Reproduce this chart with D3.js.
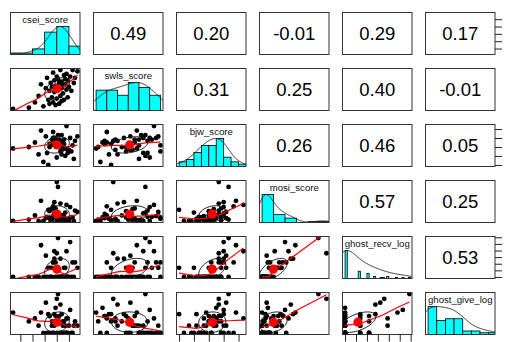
<!DOCTYPE html>
<html><head><meta charset="utf-8">
<script src="https://cdn.jsdelivr.net/npm/d3@7"></script>
<style>body{margin:0;background:#fff}svg{display:block}</style>
</head><body><svg id="c" width="507" height="342"></svg>
<script>
// ---- data (48 observations) ----
const names = ["csei_score","swls_score","bjw_score","mosi_score","ghost_recv_log","ghost_give_log"];
const csei = [36.5,31.5,38.5,28.5,34,33,30,35.5,26,37.5,30.5,33.5,29,34.5,32,27.5,37,31,33.5,23.5,32.5,29.5,35,28,32,25.5,34,30.5,27,36,29,32.5,22.5,31.5,34.5,28,30,33,26.5,32,28.5,21,31,27,29.5,24.5,18.5,12];
const swls = [35,35,34,33,32,31,30,30,29,29,28,28,27,27,26,25,25,25,24,24,23,23,22,22,21,21,20,20,19,19,18,17,15,15,14,14,13,12,12,11,10,10,9,9,8,7,6,5];
const bjw = [4.17,3.5,5.17,5,6.33,4.83,2.83,5,3.33,4.67,5.33,3,5,3.33,5.33,4.17,2.67,4.83,3.83,5.83,4.5,4.83,3.67,4.33,3.67,5.17,3.83,4.17,4,3.5,5,4,3.17,4.67,3.67,4.83,4.67,4.33,2,3.17,5.67,4.5,4.67,4.33,4.5,2.33,4,3.83];
const mosi = [0.5,0.3,1.3,0.7,2.3,0.6,0,2.0,0.6,1.5,4.9,1.2,1.1,0,0.2,0,0,0.1,0,2.9,0.4,1.8,0,1.7,0.7,0.4,0.2,0.9,1.4,0.5,2.7,0.8,0,2.5,0.3,0.1,5.6,0.1,1.6,0.3,2.1,0.8,1.0,0.4,0.5,0,0.2,0];
const ghostRecv = [1.099,0,0.693,1.099,1.946,0.693,0,2.639,0,1.099,2.944,0.693,1.946,0,0,0,0,0,0,2.398,0,1.099,0,0.693,0,1.609,0,0.693,0.693,0,1.386,0,0,1.386,0,0,1.792,0,0.693,0,1.099,0,0,0,0,0,0,0];
const ghostGive = [0,0,0.693,0,1.386,0,0,2.197,0,1.099,3.714,0,0.693,0,0,0,0.693,0,0.693,1.946,0.693,1.609,0.693,0.693,0,2.890,0,1.386,1.609,0,1.792,1.099,0.693,2.708,1.386,1.099,3.258,1.099,1.792,1.792,0,1.386,1.609,1.609,2.398,0,1.099,1.946];
// correlations printed in the upper panels (row i, columns i+1..)
const corr = [[0.49,0.20,-0.01,0.29,0.17],[0.31,0.25,0.40,-0.01],[0.26,0.46,0.05],[0.57,0.25],[0.53]];
// histogram breaks
const histStart = [10,5,2,0,0,0];
const histWidth = [5,5,0.5,1,0.1,0.5];
// axis tick values
const bottomTicks = {0:[15,20,25,30,35], 2:[2,3,4,5,6], 4:[0,0.5,1,1.5,2,2.5,3]};
const rightTicks = {0:[15,20,25,30,35], 2:[2,3,4,5,6], 4:[0,0.5,1,1.5,2,2.5,3]};

const vars = [csei,swls,bjw,mosi,ghostRecv,ghostGive];
const NV = vars.length;
const L0=10.5, DX=83, PW=69.5, T0=12.5, DY=56, PH=42;
const pLeft=k=>L0+k*DX, pTop=k=>T0+k*DY;
const svg = d3.select("#c");
const FONT = "'Liberation Sans', Arial, Helvetica, sans-serif";

const xS = vars.map((v,k)=>{const e=d3.extent(v),p=0.04*(e[1]-e[0]);return d3.scaleLinear().domain([e[0]-p,e[1]+p]).range([pLeft(k),pLeft(k)+PW]);});
const yS = vars.map((v,k)=>{const e=d3.extent(v),p=0.04*(e[1]-e[0]);return d3.scaleLinear().domain([e[0]-p,e[1]+p]).range([pTop(k)+PH,pTop(k)]);});

const defs = svg.append("defs");
function clipFor(i,j){const id=`cp${i}_${j}`;defs.append("clipPath").attr("id",id).append("rect").attr("x",pLeft(j)).attr("y",pTop(i)).attr("width",PW).attr("height",PH);return `url(#${id})`;}

function kde(v){
  const n=v.length, sd=d3.deviation(v), q1=d3.quantile(v,0.25), q3=d3.quantile(v,0.75);
  const bw=1.06*Math.min(sd,(q3-q1)/1.34)*Math.pow(n,-0.2)*1.2;
  const lo=d3.min(v)-3*bw, hi=d3.max(v)+3*bw;
  const pts=d3.range(512).map(k=>{const x=lo+(hi-lo)*k/511;let s=0;for(const d of v){const u=(x-d)/bw;s+=Math.exp(-0.5*u*u);}return [x,s];});
  const m=d3.max(pts,p=>p[1]);return pts.map(p=>[p[0],p[1]/m]);
}
function lowestFit(x,y,xv,nleft,nright,rw,userw){
  const n=x.length, range=x[n-1]-x[0];
  const h=Math.max(xv-x[nleft],x[nright]-xv), h9=0.999*h, h1=0.001*h;
  const w=new Array(n).fill(0);let a=0,j=nleft;
  while(j<n){const r=Math.abs(x[j]-xv);
    if(r<=h9){w[j]=r<=h1?1:Math.pow(1-Math.pow(r/h,3),3);if(userw)w[j]*=rw[j];a+=w[j];}
    else if(x[j]>xv)break;j++;}
  const nrt=j-1;if(a<=0)return null;
  for(j=nleft;j<=nrt;j++)w[j]/=a;
  if(h>0){a=0;for(j=nleft;j<=nrt;j++)a+=w[j]*x[j];let b=xv-a,c=0;
    for(j=nleft;j<=nrt;j++)c+=w[j]*(x[j]-a)*(x[j]-a);
    if(Math.sqrt(c)>0.001*range){b/=c;for(j=nleft;j<=nrt;j++)w[j]*=(b*(x[j]-a)+1);}}
  let s=0;for(j=nleft;j<=nrt;j++)s+=w[j]*y[j];return s;
}
function lowess(xa,ya,f=2/3,iter=3){
  const n=xa.length, idx=d3.range(n).sort((a,b)=>xa[a]-xa[b]);
  const x=idx.map(i=>xa[i]), y=idx.map(i=>ya[i]);
  const ns=Math.max(2,Math.min(n,Math.floor(f*n+1e-7))), delta=0.01*(x[n-1]-x[0]);
  const rw=new Array(n).fill(1), ys=new Array(n).fill(0), res=new Array(n).fill(0);
  for(let it=1;it<=iter+1;it++){
    let nleft=0,nright=ns-1,last=-1,i=0;
    for(;;){
      if(nright<n-1){const d1=x[i]-x[nleft],d2=x[nright+1]-x[i];if(d1>d2){nleft++;nright++;continue;}}
      const v=lowestFit(x,y,x[i],nleft,nright,rw,it>1);ys[i]=v===null?y[i]:v;
      if(last<i-1){const den=x[i]-x[last];for(let j=last+1;j<i;j++){const al=(x[j]-x[last])/den;ys[j]=al*ys[i]+(1-al)*ys[last];}}
      last=i;const cut=x[last]+delta;
      for(i=last+1;i<n;i++){if(x[i]>cut)break;if(x[i]===x[last]){ys[i]=ys[last];last=i;}}
      i=Math.max(last+1,i-1);if(last>=n-1)break;
    }
    for(let k=0;k<n;k++)res[k]=y[k]-ys[k];
    if(it>iter)break;
    const ar=res.map(Math.abs), srt=ar.slice().sort((a,b)=>a-b), m1=Math.floor(n/2);
    const cmad=n%2===0?3*(srt[m1-1]+srt[m1]):6*srt[m1], sc=d3.sum(ar)/n;
    if(cmad<1e-7*sc)break;
    const c9=0.999*cmad,c1=0.001*cmad;
    for(let k=0;k<n;k++){const r=ar[k];rw[k]=r<=c1?1:(r<=c9?Math.pow(1-Math.pow(r/cmad,2),2):0);}
  }
  return x.map((xv,k)=>[xv,ys[k]]);
}

for(let i=0;i<NV;i++){
  for(let j=0;j<NV;j++){
    const g=svg.append("g");
    const inner=g.append("g").attr("clip-path",clipFor(i,j));
    if(i===j){
      const v=vars[i], st=histStart[i], w=histWidth[i];
      const nb=Math.ceil((d3.max(v)-st)/w-1e-9);
      const counts=new Array(nb).fill(0);
      v.forEach(d=>{const b=Math.max(0,Math.ceil((d-st)/w-1e-9)-1);counts[b]++;});
      const mx=d3.max(counts);
      const hy=d3.scaleLinear().domain([0,1.5]).range([pTop(i)+PH,pTop(i)]);
      inner.selectAll("rect.bar").data(counts).join("rect").attr("class","bar")
        .attr("x",(c,b)=>xS[i](st+b*w)).attr("width",(c,b)=>xS[i](st+(b+1)*w)-xS[i](st+b*w))
        .attr("y",c=>hy(c/mx)).attr("height",c=>hy(0)-hy(c/mx))
        .attr("fill","#00ffff").attr("stroke","#000").attr("stroke-width",0.8);
      const d=kde(v);
      inner.append("path").attr("d",d3.line().x(p=>xS[i](p[0])).y(p=>hy(p[1]))(d))
        .attr("fill","none").attr("stroke","#222").attr("stroke-width",1);
      g.append("text").attr("x",pLeft(i)+PW/2).attr("y",pTop(i)+10).attr("text-anchor","middle")
        .attr("font-family",FONT).attr("font-size",9.6).attr("fill","#111").text(names[i]);
    } else if(i<j){
      const r=corr[i][j-i-1];
      g.append("text").attr("x",pLeft(j)+PW/2).attr("y",pTop(i)+PH/2+6.5).attr("text-anchor","middle")
        .attr("font-family",FONT).attr("font-size",18.5).attr("fill","#000").text(r.toFixed(2));
    } else {
      const xv=vars[j], yv=vars[i], xs=xS[j], ys=yS[i];
      inner.selectAll("circle.pt").data(d3.range(xv.length)).join("circle").attr("class","pt")
        .attr("cx",k=>xs(xv[k])).attr("cy",k=>ys(yv[k])).attr("r",2.4).attr("fill","#000");
      const lw=lowess(xv,yv);
      inner.append("path").attr("d",d3.line().x(p=>xs(p[0])).y(p=>ys(p[1]))(lw))
        .attr("fill","none").attr("stroke","#ff0000").attr("stroke-width",1.2);
      const xm=d3.mean(xv), ym=d3.mean(yv), sx=d3.deviation(xv), sy=d3.deviation(yv);
      const r=corr[j][i-j-1];
      const th=(Math.abs(r)>0?Math.sign(r):1)/Math.SQRT2, a=Math.sqrt(1+r), b=Math.sqrt(1-r);
      const ell=d3.range(52).map(k=>{const t=k*2*Math.PI/51,c=Math.cos(t),s=Math.sin(t);
        return [xm+sx*th*(a*c-b*s), ym+sy*th*(a*c+b*s)];});
      inner.append("circle").attr("cx",xs(xm)).attr("cy",ys(ym)).attr("r",4.6).attr("fill","#ff0000");
      inner.append("path").attr("d",d3.line().x(p=>xs(p[0])).y(p=>ys(p[1]))(ell))
        .attr("fill","none").attr("stroke","#222").attr("stroke-width",1);
    }
    g.append("rect").attr("x",pLeft(j)).attr("y",pTop(i)).attr("width",PW).attr("height",PH)
      .attr("fill","none").attr("stroke","#333").attr("stroke-width",1);
  }
}
// axes
Object.keys(bottomTicks).forEach(k=>{
  const ax=d3.axisBottom(xS[k]).tickValues(bottomTicks[k]).tickFormat("").tickSize(7).tickSizeOuter(0);
  const g=svg.append("g").attr("transform",`translate(0,${pTop(NV-1)+PH})`).call(ax);
  g.select(".domain").remove();g.selectAll("line").attr("stroke","#222");
});
Object.keys(rightTicks).forEach(k=>{
  const ax=d3.axisRight(yS[k]).tickValues(rightTicks[k]).tickFormat("").tickSize(7).tickSizeOuter(0);
  const g=svg.append("g").attr("transform",`translate(${pLeft(NV-1)+PW},0)`).call(ax);
  g.select(".domain").remove();g.selectAll("line").attr("stroke","#222");
});
</script></body></html>
